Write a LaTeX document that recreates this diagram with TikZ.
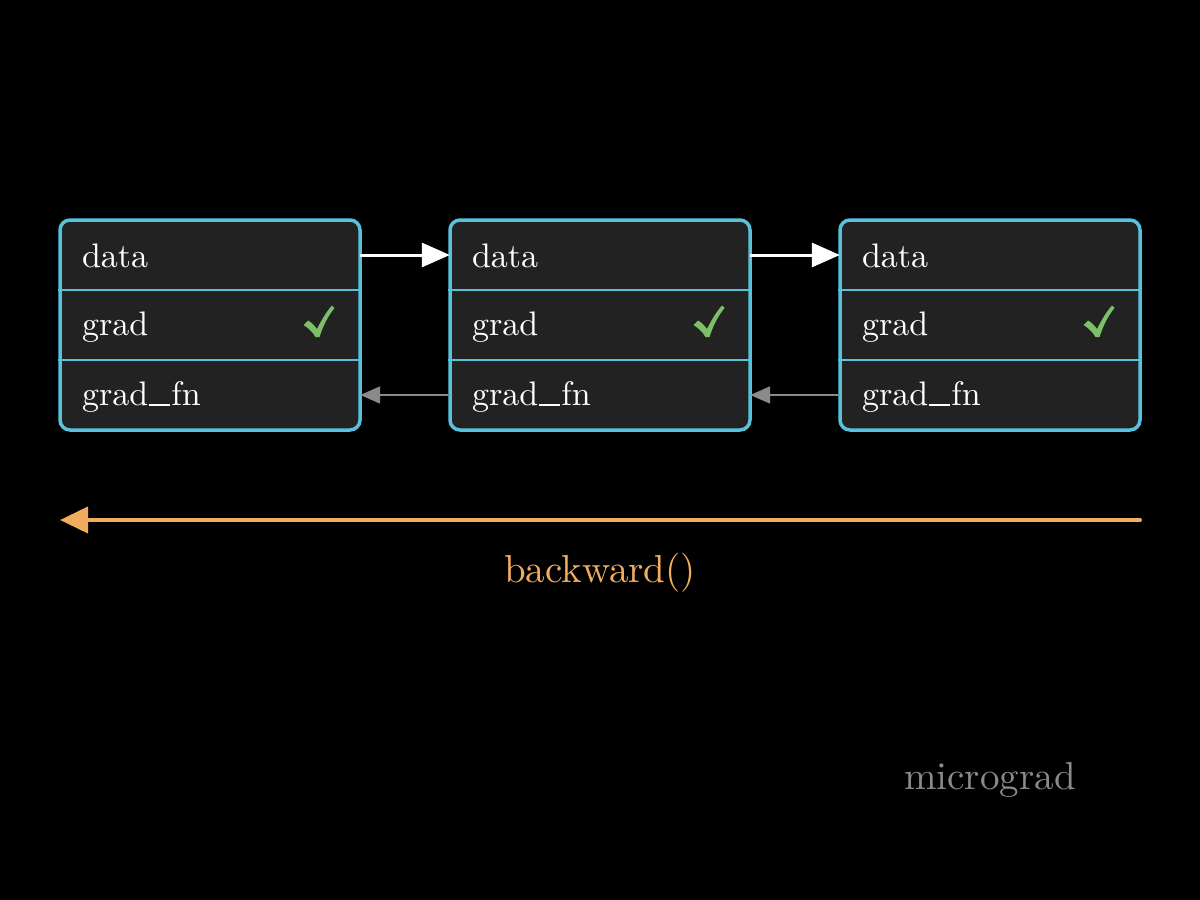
\documentclass[tikz,border=0pt]{standalone}
\usepackage{fontspec}
\setmainfont{lmroman10-regular}[Extension=.otf]
\usetikzlibrary{arrows.meta}
\definecolor{bordc}{HTML}{58C2DD}
\definecolor{boxfill}{HTML}{222222}
\definecolor{chk}{HTML}{7CBF68}
\definecolor{orng}{HTML}{F0AD5F}
\definecolor{grayc}{HTML}{8A8A8A}
\newcommand\myusc{\kern0.03em\rule[-0.01em]{0.62em}{0.055em}\kern0.03em}
\tikzset{
  boxshape/.style={draw=bordc, line width=3.5pt, fill=boxfill, rounded corners=10pt, minimum width=300pt, minimum height=210pt, inner sep=0pt},
  rownode/.style={minimum width=300pt, minimum height=70pt, text width=256pt, inner xsep=22pt, inner ysep=0pt, align=left, text=white, font=\fontsize{34}{40}\selectfont},
  divider/.style={draw=bordc, line width=2pt},
  fwd/.style={draw=white, line width=3pt, -{Triangle[length=28pt,width=24pt]}},
  bwd/.style={draw=grayc, line width=2pt, -{Triangle[length=20pt,width=17pt]}},
  chkmark/.style={fill=chk, line join=round},
}
\begin{document}
\begin{tikzpicture}[x=1pt,y=-1pt]
\fill[black] (0,0) rectangle (1200,900);
\useasboundingbox (0,0) rectangle (1200,900);
\foreach \i/\x in {1/210,2/600,3/990}{
  \node[boxshape] (box\i) at (\x,325) {};
  \node[rownode] (d\i) at (\x,256) {data};
  \node[rownode] (g\i) at (\x,327) {grad};
  \node[rownode] (f\i) at (\x,397) {grad\myusc fn};
  \draw[divider] (box\i.west |- 0,290) -- (box\i.east |- 0,290);
  \draw[divider] (box\i.west |- 0,360) -- (box\i.east |- 0,360);
  \begin{scope}[shift={(\x,0)}]
  \fill[chkmark] (93.5,325) -- (98,320.5) .. controls (101,322) and (104,325) .. (107,329)
     .. controls (112,319) and (117,311) .. (122,305.5) -- (124.5,308)
     .. controls (118,316) and (113,326) .. (109.5,337) -- (105.5,337)
     .. controls (102,331) and (98,328) .. cycle;
  \end{scope}
}
\draw[fwd] (d1.east |- 0,255) -- (d2.west |- 0,255);
\draw[fwd] (d2.east |- 0,255) -- (d3.west |- 0,255);
\draw[bwd] (f2.west |- 0,395) -- (f1.east |- 0,395);
\draw[bwd] (f3.west |- 0,395) -- (f2.east |- 0,395);
\coordinate (bstart) at (1140,520);
\coordinate (bend) at (60,520);
\draw[draw=orng, line width=4pt, line cap=round, -{Triangle[length=28pt,width=26pt]}] (bstart) -- (bend);
\node[text=orng, font=\fontsize{39}{44}\selectfont] (bw) at (600,573) {backward()};
\node[text=grayc, font=\fontsize{39}{44}\selectfont] (mg) at (990,780) {micrograd};
\end{tikzpicture}
\end{document}
